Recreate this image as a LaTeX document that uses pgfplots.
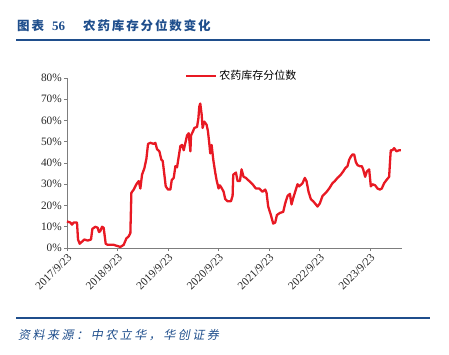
\documentclass[border=0pt]{standalone}
\usepackage{fontspec}
\setmainfont{Liberation Serif}
\newfontfamily\cjk{Noto Sans CJK SC}
\newfontfamily\cjkt[LetterSpace=15]{Noto Sans CJK SC}
\newfontfamily\cjkit[FakeSlant=0.2,LetterSpace=21]{Noto Sans CJK SC}
\usepackage{pgfplots}
\pgfplotsset{compat=1.18}
\definecolor{hcred}{RGB}{232,25,35}
\definecolor{hcblue}{RGB}{31,78,140}
\definecolor{axgray}{RGB}{125,125,125}
\pgfplotstableread{
t v
0.000 12.5
0.066 12
0.099 11
0.132 12
0.198 12
0.218 4
0.251 2
0.297 3
0.343 4
0.409 3.5
0.475 4
0.502 9
0.561 10
0.607 9.5
0.634 7.5
0.660 8
0.693 10
0.726 9.5
0.766 2
0.805 1.5
0.924 1.5
0.990 1
1.056 0.5
1.122 1.5
1.175 4.5
1.221 5.5
1.254 7
1.274 26
1.320 27.5
1.373 30
1.419 31.5
1.452 28
1.485 34.5
1.531 37.5
1.571 42
1.604 49
1.650 49.5
1.716 49
1.749 49.5
1.782 46.5
1.828 45.5
1.868 41.5
1.894 41
1.927 34.5
1.954 29
2.000 27.5
2.046 27.5
2.073 32
2.112 33
2.145 38.5
2.178 38
2.211 43
2.244 48
2.277 48.5
2.310 46
2.343 49.5
2.376 53
2.409 54
2.442 45.5
2.455 53
2.495 55
2.521 56.5
2.574 57
2.600 61
2.618 66.5
2.637 68
2.664 63
2.684 56.5
2.717 59.5
2.763 58
2.789 55
2.815 49.5
2.835 44.5
2.862 48.5
2.895 41.5
2.934 35.5
2.960 32
3.000 28
3.026 29.5
3.066 28
3.099 26.5
3.132 23
3.178 22
3.244 22
3.277 24.5
3.290 34.5
3.343 35.5
3.376 31.5
3.422 31.5
3.455 37
3.494 33.5
3.541 33
3.606 31.5
3.672 30
3.738 28
3.804 28
3.870 26.5
3.923 27.5
3.949 26
3.982 19.5
4.035 15.5
4.081 11.5
4.121 12
4.154 15.5
4.213 16.5
4.279 17
4.318 21
4.365 24.5
4.411 25.5
4.444 20.5
4.477 23.5
4.516 26.5
4.562 30
4.595 29
4.661 30.5
4.707 33
4.740 31.5
4.780 26.5
4.826 23
4.872 22
4.925 20.5
4.958 19.5
5.004 21
5.057 24.5
5.123 26
5.189 28
5.254 30.5
5.301 31.5
5.353 33
5.419 34.5
5.465 36
5.505 37.5
5.551 38.5
5.584 41.5
5.617 43
5.650 44
5.683 44
5.716 40.5
5.749 39
5.796 38.5
5.835 38.5
5.861 37
5.901 33.5
5.934 36
5.980 37
6.013 29
6.046 30
6.098 29.5
6.145 28
6.191 27.5
6.230 28
6.276 30.5
6.323 32
6.375 33.5
6.395 41.5
6.408 46
6.441 46
6.474 47
6.520 45.5
6.573 46
6.610 46
}\datatable
\begin{document}
\begin{tikzpicture}[x=1pt,y=1pt]
\useasboundingbox (0,0) rectangle (449,354);
% title
\node[anchor=west, text=hcblue, inner sep=0pt, font=\fontsize{12.5}{14}\selectfont\cjkt\bfseries] at (17,328) {图表};
\node[anchor=west, text=hcblue, inner sep=0pt, font=\fontsize{13}{14}\selectfont\bfseries] at (52,328) {56};
\node[anchor=west, text=hcblue, inner sep=0pt, font=\fontsize{12.5}{14}\selectfont\cjkt\bfseries] at (83,328) {农药库存分位数变化};
\draw[hcblue, line width=1.5pt] (16,314) -- (430,314);
\draw[hcblue, line width=1.2pt] (16,36) -- (430,36);
\node[anchor=west, text=hcblue, inner sep=0pt, font=\fontsize{12}{14}\selectfont\cjkit] at (18,19) {资料来源：中农立华，华创证券};
\begin{axis}[
  at={(67pt,106pt)}, anchor=south west,
  scale only axis, width=335pt, height=170pt,
  xmin=0, xmax=6.63, ymin=0, ymax=80,
  axis x line=bottom, axis y line=left,
  axis line style={axgray, -, line width=0.8pt},
  tick style={axgray, line width=0.8pt},
  tick align=outside, major tick length=3pt,
  xtick={0,1,2,3,4,5,6},
  xticklabels={2017/9/23,2018/9/23,2019/9/23,2020/9/23,2021/9/23,2022/9/23,2023/9/23},
  ytick={0,10,20,30,40,50,60,70,80},
  yticklabels={0\%,10\%,20\%,30\%,40\%,50\%,60\%,70\%,80\%},
  ticklabel style={font=\fontsize{11.3}{13}\selectfont, text=black!85},
  xticklabel style={rotate=45, anchor=north east, inner sep=1pt},
  yticklabel style={inner sep=2pt},
  legend style={at={(0.352,1.012)}, anchor=west, draw=none, fill=none,
    font=\fontsize{11}{13}\selectfont\cjk, inner sep=0pt},
  legend image code/.code={\draw[#1] (0pt,0pt) -- (30pt,0pt);},
  clip=false,
]
\addplot[hcred, line width=2.3pt, line join=round] table[x=t, y=v] {\datatable};
\addlegendentry{农药库存分位数}
\end{axis}
\end{tikzpicture}
\end{document}
